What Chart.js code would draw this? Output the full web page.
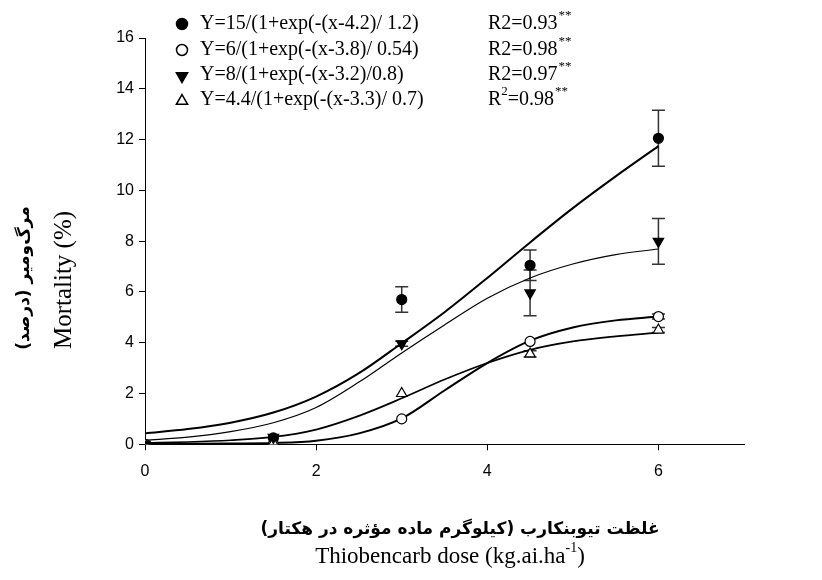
<!DOCTYPE html>
<html lang="fa">
<head>
  <meta charset="UTF-8">
  <title>Mortality vs Thiobencarb dose</title>
  <script src="https://cdn.jsdelivr.net/npm/chart.js"></script>
  <style>
    body { margin: 0; background: #fff; }
    #wrap { width: 822px; height: 580px; }
  </style>
</head>
<body>
  <div id="wrap"><canvas id="chart" width="822" height="580"></canvas></div>

  <script>
    // measured points (dose, % mortality) with error bars
    const doses = [0, 1.5, 3, 4.5, 6];
    const filledCircle = [0, 0.25, 5.7, 7.05, 12.05];
    const filledCircleErr = [0, 0, 0.5, 0.6, 1.1];
    const openCircle = [0, 0, 1.0, 4.05, 5.03];
    const openCircleErr = [0, 0, 0, 0, 0.1];
    const filledTriangle = [0, 0.27, 3.96, 5.96, 7.99];
    const filledTriangleErr = [0, 0, 0.1, 0.9, 0.9];
    const openTriangle = [0, 0.05, 2.0, 3.56, 4.5];
    const openTriangleErr = [0, 0, 0, 0.12, 0.1];

    // fitted curves
    const curveX = [0, 0.5, 1, 1.5, 2, 2.5, 3, 3.5, 4, 4.5, 5, 5.5, 6];
    const curveFilledCircle = [0.43, 0.6, 0.85, 1.25, 1.88, 2.8, 3.98, 5.2, 6.55, 7.95, 9.3, 10.55, 11.74];
    const curveOpenCircle = [0.02, 0.02, 0.03, 0.05, 0.14, 0.43, 1.02, 2.12, 3.2, 4.08, 4.6, 4.88, 5.03];
    const curveFilledTriangle = [0.16, 0.28, 0.5, 0.85, 1.45, 2.45, 3.6, 4.7, 5.75, 6.55, 7.1, 7.47, 7.69];
    const curveOpenTriangle = [0.05, 0.09, 0.16, 0.29, 0.58, 1.12, 1.81, 2.55, 3.2, 3.72, 4.05, 4.25, 4.4];

    const xTicks = [0, 2, 4, 6];
    const yTicks = [0, 2, 4, 6, 8, 10, 12, 14, 16];

    const formulas = [
      'Y=15/(1+exp(-(x-4.2)/ 1.2)',
      'Y=6/(1+exp(-(x-3.8)/ 0.54)',
      'Y=8/(1+exp(-(x-3.2)/0.8)',
      'Y=4.4/(1+exp(-(x-3.3)/ 0.7)'
    ];
    const rLabels = ['R2=0.93', 'R2=0.98', 'R2=0.97', 'R²=0.98'];

    const pts = (xs, ys) => xs.map((x, i) => ({ x: x, y: ys[i] }));

    const serif = '"Liberation Serif", "Times New Roman", serif';
    const sans = '"Liberation Sans", Arial, sans-serif';

    const markerStyles = [
      { pointStyle: 'circle', radius: 5, rotation: 0, fill: '#000' },
      { pointStyle: 'circle', radius: 5, rotation: 0, fill: '#fff' },
      { pointStyle: 'triangle', radius: 6, rotation: 180, fill: '#000' },
      { pointStyle: 'triangle', radius: 6, rotation: 0, fill: '#fff' }
    ];

    function markerSet(label, ys, errs, st, order) {
      return {
        label: label,
        data: pts(doses, ys),
        errs: errs,
        showLine: false,
        pointStyle: st.pointStyle,
        rotation: st.rotation,
        pointRadius: st.radius,
        pointBackgroundColor: st.fill,
        pointBorderColor: '#000',
        pointBorderWidth: 1.2,
        order: order
      };
    }

    function curveSet(ys, width) {
      return {
        data: pts(curveX, ys),
        showLine: true,
        pointRadius: 0,
        borderColor: '#000',
        borderWidth: width,
        cubicInterpolationMode: 'monotone',
        fill: false,
        order: 10
      };
    }

    const errorBars = {
      id: 'errorBars',
      beforeDatasetsDraw(chart) {
        const ctx = chart.ctx;
        const xs = chart.scales.x, ys = chart.scales.y;
        ctx.save();
        ctx.strokeStyle = '#333';
        ctx.lineWidth = 1.5;
        chart.data.datasets.forEach(ds => {
          if (!ds.errs) return;
          ds.data.forEach((p, i) => {
            const e = ds.errs[i];
            if (!e) return;
            const px = xs.getPixelForValue(p.x);
            const top = ys.getPixelForValue(p.y + e);
            const bot = ys.getPixelForValue(p.y - e);
            ctx.beginPath();
            ctx.moveTo(px, top); ctx.lineTo(px, bot);
            ctx.moveTo(px - 6.5, top); ctx.lineTo(px + 6.5, top);
            ctx.moveTo(px - 6.5, bot); ctx.lineTo(px + 6.5, bot);
            ctx.stroke();
          });
        });
        ctx.restore();
      }
    };

    function supText(ctx, base, sup, x, y, size, supSize) {
      ctx.font = size + 'px ' + serif;
      ctx.fillText(base, x, y);
      const w = ctx.measureText(base).width;
      ctx.font = supSize + 'px ' + serif;
      ctx.fillText(sup, x + w + 1, y - size * 0.42);
      return w + 1 + ctx.measureText(sup).width;
    }

    const annotations = {
      id: 'annotations',
      afterDraw(chart) {
        const ctx = chart.ctx;
        ctx.save();
        ctx.fillStyle = '#000';
        ctx.textBaseline = 'middle';
        ctx.textAlign = 'left';

        // legend
        const rowY = [24, 50, 75, 100];
        markerStyles.forEach((st, i) => {
          ctx.fillStyle = st.fill;
          ctx.strokeStyle = '#000';
          ctx.lineWidth = 1.5;
          Chart.helpers.drawPoint(ctx, {
            pointStyle: st.pointStyle, rotation: st.rotation,
            radius: st.radius + 0.5, borderWidth: 1.5
          }, 182, rowY[i] + (st.pointStyle === 'triangle' ? 1 : 0));
          ctx.fillStyle = '#000';
          ctx.font = '20px ' + serif;
          ctx.fillText(formulas[i], 200, rowY[i]);
          if (i === 3) {
            ctx.font = '20px ' + serif;
            ctx.fillText('R', 488, rowY[i]);
            let w = ctx.measureText('R').width;
            ctx.font = '13px ' + serif;
            ctx.fillText('2', 488 + w, rowY[i] - 8);
            w += ctx.measureText('2').width;
            ctx.font = '20px ' + serif;
            ctx.fillText('=0.98', 488 + w, rowY[i]);
            w += ctx.measureText('=0.98').width;
            ctx.font = '13px ' + serif;
            ctx.fillText('**', 488 + w + 1, rowY[i] - 8);
          } else {
            supText(ctx, rLabels[i], '**', 488, rowY[i], 20, 13);
          }
        });

        // x axis titles
        ctx.textAlign = 'center';
        ctx.font = 'bold 17px "DejaVu Sans", sans-serif';
        ctx.direction = 'rtl';
        ctx.fillText('غلظت تیوبنکارب (کیلوگرم ماده مؤثره در هکتار)', 460, 530);
        ctx.direction = 'ltr';

        ctx.textAlign = 'left';
        const big = '23px ' + serif, small = '14px ' + serif;
        ctx.font = big;
        const a = 'Thiobencarb dose (kg.ai.ha';
        const wa = ctx.measureText(a).width;
        const wc = ctx.measureText(')').width;
        ctx.font = small;
        const ws = ctx.measureText('-1').width;
        let sx = 450 - (wa + ws + wc) / 2;
        ctx.font = big;
        ctx.fillText(a, sx, 557);
        ctx.font = small;
        ctx.fillText('-1', sx + wa, 548);
        ctx.font = big;
        ctx.fillText(')', sx + wa + ws, 557);

        // y axis titles
        ctx.save();
        ctx.translate(25, 278);
        ctx.rotate(-Math.PI / 2);
        ctx.textAlign = 'center';
        ctx.direction = 'rtl';
        ctx.font = 'bold 17px "DejaVu Sans", sans-serif';
        ctx.fillText('مرگ‌ومیر (درصد)', 0, 0);
        ctx.restore();

        ctx.save();
        ctx.translate(64, 280);
        ctx.rotate(-Math.PI / 2);
        ctx.textAlign = 'center';
        ctx.font = '25px ' + serif;
        ctx.fillText('Mortality (%)', 0, 0);
        ctx.restore();

        ctx.restore();
      }
    };

    new Chart(document.getElementById('chart'), {
      type: 'scatter',
      data: {
        datasets: [
          markerSet('filled triangle', filledTriangle, filledTriangleErr, markerStyles[2], 0),
          markerSet('open triangle', openTriangle, openTriangleErr, markerStyles[3], 1),
          markerSet('open circle', openCircle, openCircleErr, markerStyles[1], 2),
          markerSet('filled circle', filledCircle, filledCircleErr, markerStyles[0], 3),
          curveSet(curveFilledCircle, 2),
          curveSet(curveOpenCircle, 2),
          curveSet(curveFilledTriangle, 1.2),
          curveSet(curveOpenTriangle, 1.7)
        ]
      },
      options: {
        responsive: false,
        animation: false,
        layout: { padding: { top: 38, right: 78, left: 0, bottom: 0 } },
        plugins: { legend: { display: false }, tooltip: { enabled: false } },
        scales: {
          x: {
            type: 'linear', min: 0, max: 7,
            grid: { drawOnChartArea: false, color: '#000', tickLength: 6 },
            border: { color: '#000', width: 1 },
            ticks: { color: '#000', padding: 12, font: { family: sans, size: 16 } },
            afterBuildTicks: axis => { axis.ticks = xTicks.map(v => ({ value: v })); },
            afterFit: axis => { axis.height = 135.7; }
          },
          y: {
            type: 'linear', min: 0, max: 16,
            grid: { drawOnChartArea: false, color: '#000', tickLength: 6 },
            border: { color: '#000', width: 1 },
            ticks: { color: '#000', padding: 5, font: { family: sans, size: 16 } },
            afterBuildTicks: axis => { axis.ticks = yTicks.map(v => ({ value: v })); },
            afterFit: axis => { axis.width = 145; }
          }
        }
      },
      plugins: [errorBars, annotations]
    });
  </script>
</body>
</html>
